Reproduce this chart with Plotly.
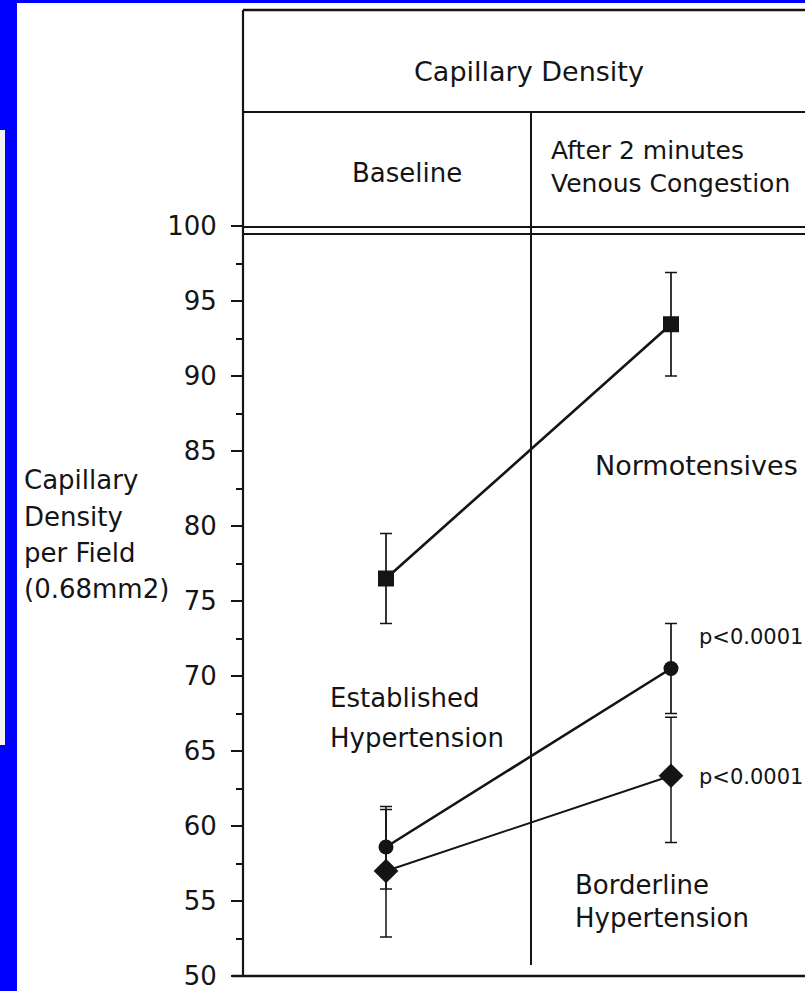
import plotly.graph_objects as go

# ---- data ----
conditions = ["Baseline", "After 2 minutes Venous Congestion"]
normo_y = [76.5, 93.45]
normo_err = [3.0, 3.45]
est_y = [58.6, 70.5]
est_err_plus = [2.5, 3.0]
est_err_minus = [2.8, 3.0]
bord_y = [57.0, 63.35]
bord_err_plus = [4.3, 3.9]
bord_err_minus = [4.4, 4.45]
y_ticks = [50, 55, 60, 65, 70, 75, 80, 85, 90, 95, 100]

W, H = 805, 991
L, R, T, B = 243, 0, 226, 15
PW, PH = W - L - R, H - T - B
INK = "#141414"
FONT = "DejaVu Sans"


def xp(px):
    return (px - L) / PW


def yp(py):
    return (H - B - py) / PH


fig = go.Figure()

fig.add_trace(go.Scatter(
    x=conditions, y=normo_y, mode="lines+markers", name="Normotensives",
    line=dict(color=INK, width=2.6),
    marker=dict(symbol="square", size=16, color=INK),
    error_y=dict(type="data", array=normo_err, color=INK, thickness=1.7, width=6),
))
fig.add_trace(go.Scatter(
    x=conditions, y=est_y, mode="lines+markers", name="Established Hypertension",
    line=dict(color=INK, width=2.6),
    marker=dict(symbol="circle", size=15, color=INK),
    error_y=dict(type="data", symmetric=False, array=est_err_plus,
                 arrayminus=est_err_minus, color=INK, thickness=1.7, width=6),
))
fig.add_trace(go.Scatter(
    x=conditions, y=bord_y, mode="lines+markers", name="Borderline Hypertension",
    line=dict(color=INK, width=1.9),
    marker=dict(symbol="diamond", size=19, color=INK),
    error_y=dict(type="data", symmetric=False, array=bord_err_plus,
                 arrayminus=bord_err_minus, color=INK, thickness=1.5, width=6),
))

shapes = []


def rect(x0, y0, x1, y1, color):
    shapes.append(dict(type="rect", xref="paper", yref="paper",
                       x0=xp(x0), x1=xp(x1), y0=yp(y1), y1=yp(y0),
                       fillcolor=color, line=dict(width=0), layer="above"))


def seg(x0, y0, x1, y1, w=2.2):
    shapes.append(dict(type="line", xref="paper", yref="paper",
                       x0=xp(x0), x1=xp(x1), y0=yp(y0), y1=yp(y1),
                       line=dict(color=INK, width=w)))


# blue slide frame
rect(0, 0, 17, H, "#0000ff")
rect(0, 0, W, 3, "#0000ff")
rect(0, 130, 5, 745, "#f2f2f2")

# table frame
seg(243, 10, W, 10, 2.4)
seg(243, 10, 243, 976, 2.2)
seg(243, 112, W, 112, 2.2)
seg(531, 112, 531, 965, 2.0)
seg(243, 227, W, 227, 2.2)
seg(243, 234, W, 234, 2.2)
seg(232, 976, W, 976, 2.6)

ann = []


def text(s, px, py, anchor="left", size=26):
    ann.append(dict(text=s, xref="paper", yref="paper", x=xp(px), y=yp(py),
                    xanchor=anchor, yanchor="middle", showarrow=False,
                    font=dict(family=FONT, size=size, color=INK)))


text("Capillary Density", 529, 72, "center", 27)
text("Baseline", 407, 173, "center", 26)
text("After 2 minutes", 549, 150, "left", 25)
text("Venous Congestion", 549, 184, "left", 25)
text("Normotensives", 593, 465, "left", 27)
text("Established", 328, 698, "left", 26)
text("Hypertension", 328, 738, "left", 26)
text("Borderline", 573, 885, "left", 26)
text("Hypertension", 573, 918, "left", 26)
text("p<0.0001", 697, 637, "left", 21)
text("p<0.0001", 697, 777, "left", 21)
text("Capillary", 22, 480, "left", 26)
text("Density", 22, 517, "left", 26)
text("per Field", 22, 553, "left", 26)
text("(0.68mm2)", 22, 589, "left", 26)

fig.update_layout(
    width=W, height=H,
    margin=dict(l=L, r=R, t=T, b=B, pad=0),
    paper_bgcolor="white", plot_bgcolor="white",
    showlegend=False,
    shapes=shapes, annotations=ann,
    xaxis=dict(type="category", range=[-0.5018, 1.4702], showgrid=False,
               zeroline=False, showline=False, showticklabels=False, ticks=""),
    yaxis=dict(range=[50, 100], tickvals=y_ticks, ticktext=[str(v) for v in y_ticks],
               showgrid=False, zeroline=False, showline=False,
               ticks="outside", ticklen=11, tickwidth=2, tickcolor=INK,
               ticklabelstandoff=9, ticklabeloverflow="allow",
               tickfont=dict(family=FONT, size=26, color=INK),
               minor=dict(tickvals=[v + 2.5 for v in y_ticks[:-1]], ticks="outside",
                          ticklen=6, tickwidth=2, tickcolor=INK)),
)

fig.write_html("out.html")
